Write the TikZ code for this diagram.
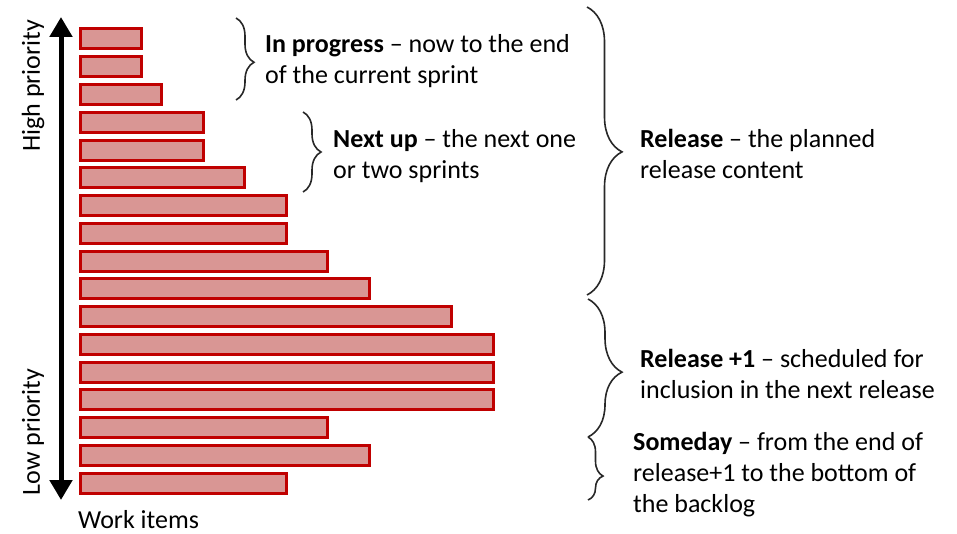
\documentclass[tikz,border=0pt]{standalone}
\usepackage{fontspec}
\setmainfont{Carlito}
\usetikzlibrary{arrows.meta,decorations.pathreplacing}

\definecolor{barfill}{RGB}{217,150,148}
\definecolor{barline}{RGB}{192,0,0}
\definecolor{bracecol}{RGB}{40,40,40}

\tikzset{
  workbar/.style={draw=barline, fill=barfill, line width=3pt, rectangle,
    inner sep=0pt, minimum height=20pt, anchor=north west},
  prioaxis/.style={line width=5pt,
    {Triangle[width=22pt,length=20pt]}-{Triangle[width=22pt,length=20pt]}},
  bracket/.style={draw=bracecol, line width=1.6pt, decorate,
    decoration={brace, amplitude=#1}},
  label/.style={anchor=base west, inner sep=0pt,
    font=\fontsize{26}{31}\selectfont},
  axislabel/.style={rotate=90, inner sep=0pt,
    font=\fontsize{26}{31}\selectfont},
}

\begin{document}
\begin{tikzpicture}[x=1pt, y=-1pt]
  \useasboundingbox (0,0) rectangle (957,534);

  % backlog items, highest priority first (right edges of the bars)
  \foreach \r [count=\i] in {142,142,162,204,204,245,287,287,328,370,452,494,494,494,328,370,287} {
    \pgfmathsetmacro{\w}{\r-78-3}
    \pgfmathsetmacro{\t}{26+(\i-1)*27.76+1.5}
    \node[workbar, minimum width=\w pt] (bar\i) at (79,\t) {};
  }

  % priority axis
  \coordinate (axistop) at (61,17);
  \coordinate (axisbottom) at (61,500);
  \draw[prioaxis] (axisbottom) -- (axistop);
  \node[axislabel] (high) at (33,86) {High priority};
  \node[axislabel] (low) at (33,432) {Low priority};

  \node[label] (work) at (78,528) {Work items};

  % groupings
  \coordinate (ip-a) at (236,18);   \coordinate (ip-b) at (236,100);
  \coordinate (nu-a) at (303,112);  \coordinate (nu-b) at (303,192);
  \coordinate (rl-a) at (587,7);    \coordinate (rl-b) at (587,295);
  \coordinate (rp-a) at (588,299);  \coordinate (rp-b) at (588,437);
  \coordinate (sd-a) at (588,437);  \coordinate (sd-b) at (588,500);

  \draw[bracket=18pt, decoration={aspect=0.54}] (ip-a) -- (ip-b);
  \draw[bracket=18pt, decoration={aspect=0.5}] (nu-a) -- (nu-b);
  \draw[bracket=35pt, decoration={aspect=0.503}] (rl-a) -- (rl-b);
  \draw[bracket=34pt, decoration={aspect=0.53}] (rp-a) -- (rp-b);
  \draw[bracket=15pt, decoration={aspect=0.62}] (sd-a) -- (sd-b);

  \node[label] (inprogress) at (265,53) {\parbox[t]{340pt}{\textbf{In progress} – now to the end\\of the current sprint}};
  \node[label] (nextup) at (333,148) {\parbox[t]{260pt}{\textbf{Next up} – the next one\\or two sprints}};
  \node[label] (release) at (640,148) {\parbox[t]{300pt}{\textbf{Release} – the planned\\release content}};
  \node[label] (releaseplus) at (640,367) {\parbox[t]{315pt}{\textbf{Release +1} – scheduled for\\inclusion in the next release}};
  \node[label] (someday) at (633,450) {\parbox[t]{320pt}{\textbf{Someday} – from the end of\\release+1 to the bottom of\\the backlog}};
\end{tikzpicture}
\end{document}
